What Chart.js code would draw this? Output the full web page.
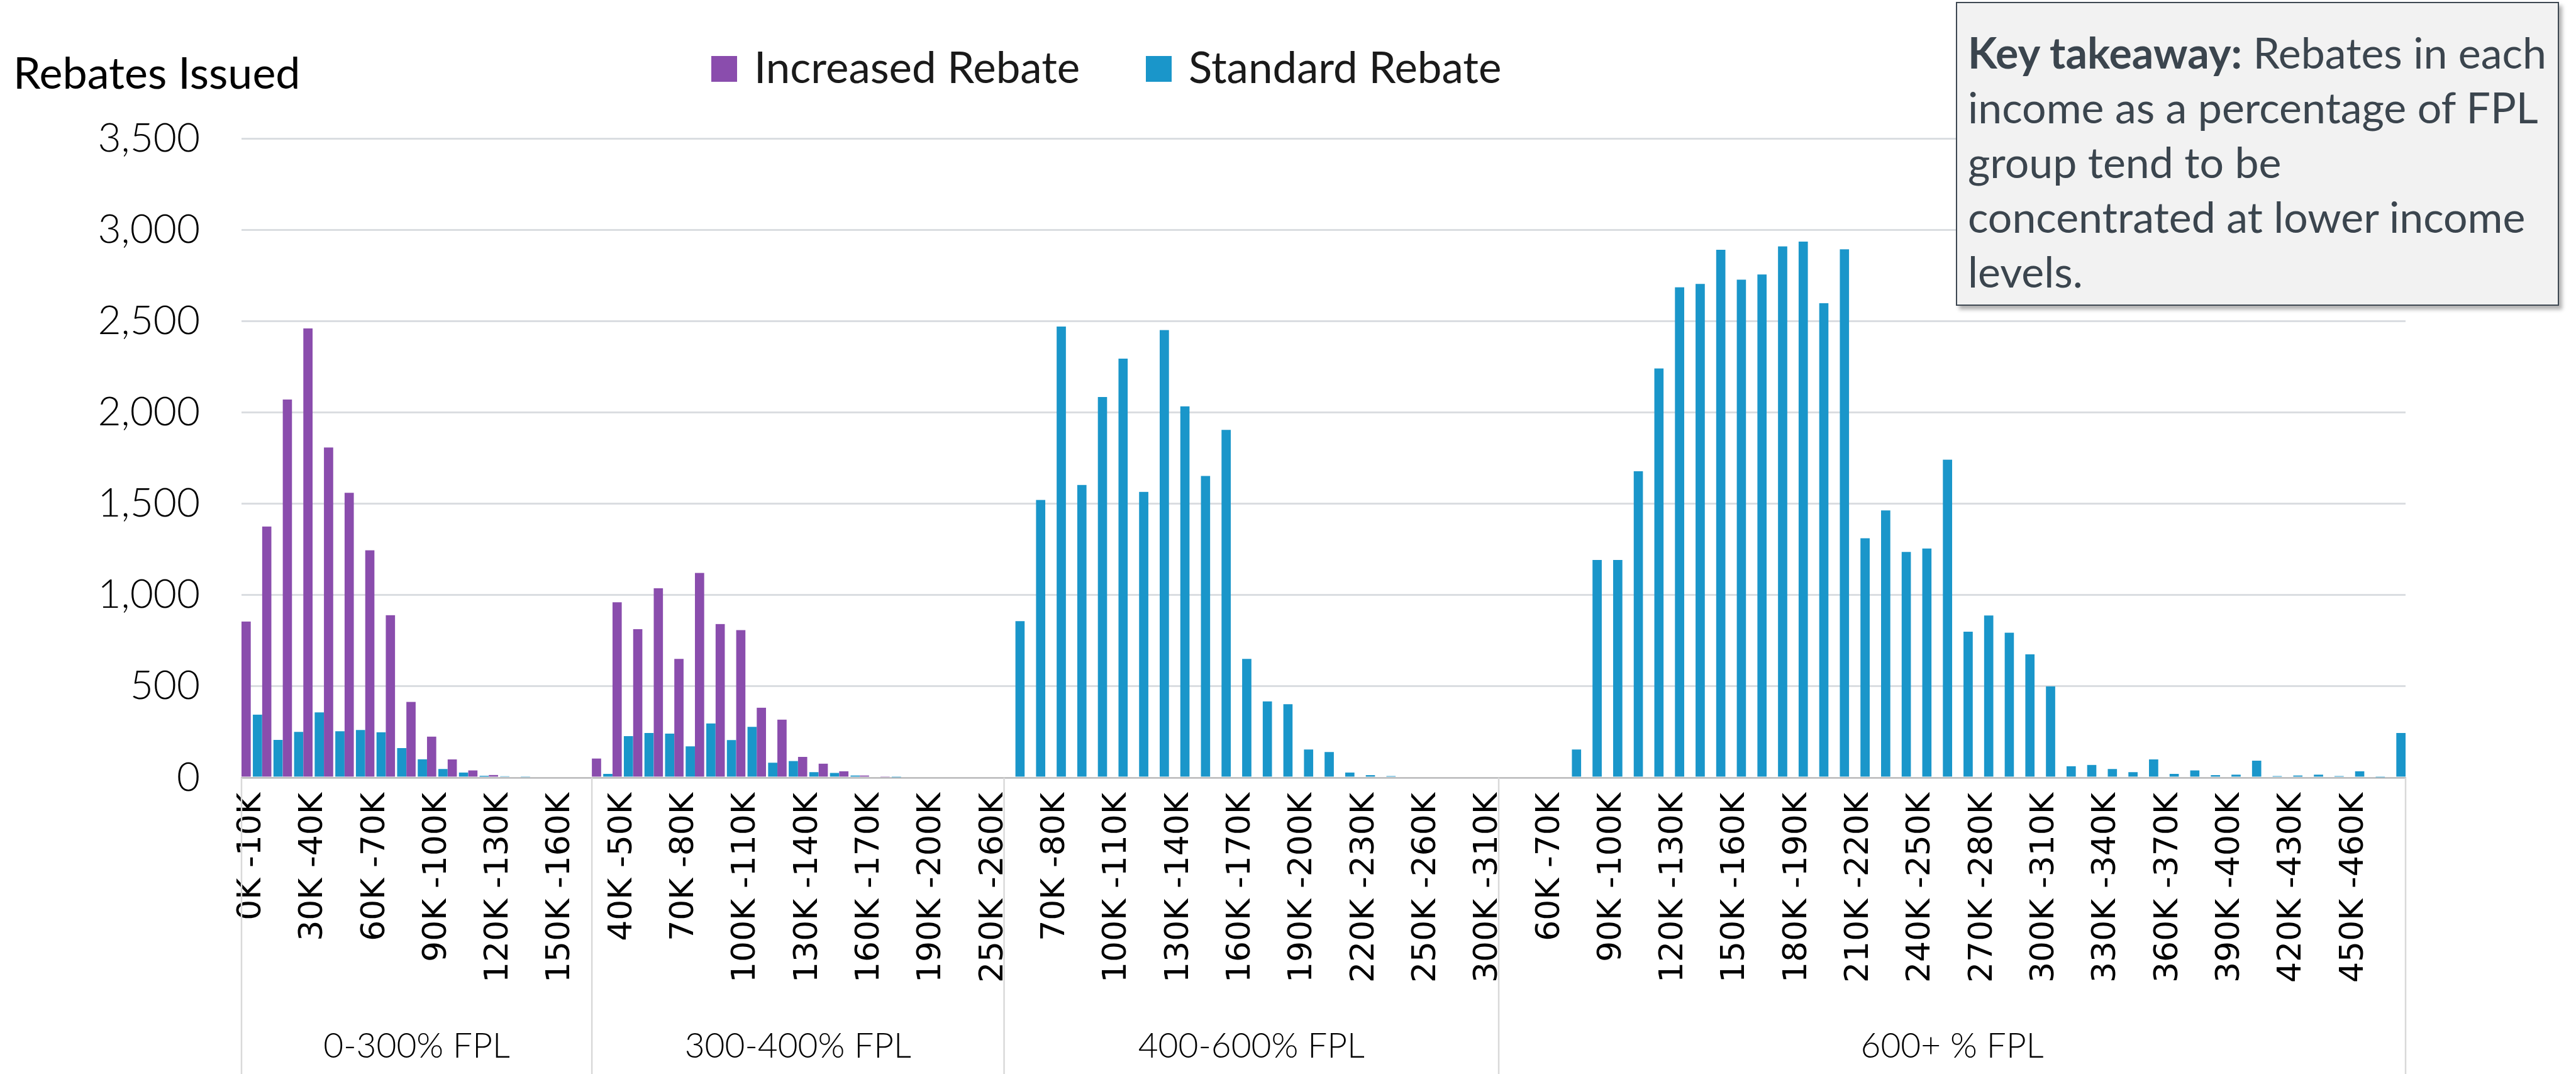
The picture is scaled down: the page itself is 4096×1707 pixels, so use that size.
<!DOCTYPE html>
<html>
<head>
<meta charset="utf-8">
<script src="https://cdn.jsdelivr.net/npm/chart.js@4.4.1/dist/chart.umd.min.js"></script>
<style>
  html, body { margin: 0; padding: 0; background: #fff; }
  #wrap { position: relative; width: 4096px; height: 1707px; }
  #note {
    position: absolute; left: 3110px; top: 3px; width: 959px; height: 483px;
    box-sizing: border-box; background: #f2f2f2; border: 2px solid #3e4852;
    box-shadow: 5px 6px 6px rgba(0, 0, 0, 0.3);
    padding: 34px 0 0 17px; font-family: Lato, sans-serif; font-size: 68px; font-weight: 400;
    line-height: 87px; color: #3b454e; white-space: nowrap;
  }
  #note b { font-weight: 700; }
</style>
</head>
<body>
<div id="wrap">
  <canvas id="graph"></canvas>
  <div id="note"><b>Key takeaway:</b> Rebates in each<br>income as a percentage of FPL<br>group tend to be<br>concentrated at lower income<br>levels.</div>
</div>
<script>
// FPL groups and the income bins inside each one
const groupNames = ["0-300% FPL", "300-400% FPL", "400-600% FPL", "600+ % FPL"];

const bins1 = ["0K -10K", "10K -20K", "20K -30K", "30K -40K", "40K -50K", "50K -60K", "60K -70K",
  "70K -80K", "80K -90K", "90K -100K", "100K -110K", "110K -120K", "120K -130K", "130K -140K",
  "140K -150K", "150K -160K", "160K -170K"];
const bins2 = ["30K -40K", "40K -50K", "50K -60K", "60K -70K", "70K -80K", "80K -90K", "90K -100K",
  "100K -110K", "110K -120K", "120K -130K", "130K -140K", "140K -150K", "150K -160K", "160K -170K",
  "170K -180K", "180K -190K", "190K -200K", "200K -210K", "210K -220K", "250K -260K"];
const bins3 = ["50K -60K", "60K -70K", "70K -80K", "80K -90K", "90K -100K", "100K -110K", "110K -120K",
  "120K -130K", "130K -140K", "140K -150K", "150K -160K", "160K -170K", "170K -180K", "180K -190K",
  "190K -200K", "200K -210K", "210K -220K", "220K -230K", "230K -240K", "240K -250K", "250K -260K",
  "260K -270K", "270K -280K", "300K -310K"];
const bins4 = ["40K -50K", "50K -60K", "60K -70K", "70K -80K", "80K -90K", "90K -100K", "100K -110K",
  "110K -120K", "120K -130K", "130K -140K", "140K -150K", "150K -160K", "160K -170K", "170K -180K",
  "180K -190K", "190K -200K", "200K -210K", "210K -220K", "220K -230K", "230K -240K", "240K -250K",
  "250K -260K", "260K -270K", "270K -280K", "280K -290K", "290K -300K", "300K -310K", "310K -320K",
  "320K -330K", "330K -340K", "340K -350K", "350K -360K", "360K -370K", "370K -380K", "380K -390K",
  "390K -400K", "400K -410K", "410K -420K", "420K -430K", "430K -440K", "440K -450K", "450K -460K",
  "460K -470K", "470K -480K"];

// Increased Rebate (purple)
const increased1 = [855, 1375, 2070, 2460, 1808, 1560, 1245, 890, 415, 225, 100, 40, 15, 5, 0, 0, 0];
const increased2 = [105, 960, 813, 1037, 650, 1121, 841, 808, 383, 318, 114, 77, 35, 12, 3, 0, 0, 0, 0, 0];
const increased3 = [0, 0, 0, 0, 0, 0, 0, 0, 0, 0, 0, 0, 0, 0, 0, 0, 0, 0, 0, 0, 0, 0, 0, 0];
const increased4 = [0, 0, 0, 0, 0, 0, 0, 0, 0, 0, 0, 0, 0, 0, 0, 0, 0, 0, 0, 0, 0, 0,
  0, 0, 0, 0, 0, 0, 0, 0, 0, 0, 0, 0, 0, 0, 0, 0, 0, 0, 0, 0, 0, 0];

// Standard Rebate (blue)
const standard1 = [345, 207, 251, 357, 254, 261, 249, 162, 101, 47, 28, 10, 8, 3, 0, 0, 0];
const standard2 = [21, 227, 245, 241, 171, 297, 206, 278, 82, 91, 30, 26, 12, 5, 2, 0, 0, 0, 0, 0];
const standard3 = [857, 1521, 2470, 1603, 2084, 2294, 1565, 2451, 2033, 1652, 1904, 650, 418, 402,
  154, 140, 28, 14, 9, 5, 5, 0, 0, 0];
const standard4 = [0, 0, 0, 154, 1192, 1192, 1678, 2241, 2685, 2703, 2890, 2727, 2755, 2909, 2935,
  2598, 2893, 1311, 1463, 1236, 1255, 1741, 799, 888, 794, 675, 500, 63, 70, 47, 30, 100, 21, 40,
  14, 16, 93, 9, 12, 16, 9, 35, 2, 245];

const groupBins = [bins1, bins2, bins3, bins4];
const labels = [].concat(bins1, bins2, bins3, bins4);
const increased = [].concat(increased1, increased2, increased3, increased4);
const standard = [].concat(standard1, standard2, standard3, standard4);

const PURPLE = "#8a4dad";
const BLUE = "#1a96ca";
const TEXT_FONT = "Lato, sans-serif";

// draws the group row under the axis, the y title and the legend
const extras = {
  id: "extras",
  afterDraw(chart) {
    const { ctx, chartArea, scales } = chart;
    const x = scales.x;
    ctx.save();

    // group dividers
    const edges = [chartArea.left];
    let idx = 0;
    groupBins.forEach((g, gi) => {
      idx += g.length;
      if (gi < groupBins.length - 1) {
        edges.push((x.getPixelForValue(idx - 1) + x.getPixelForValue(idx)) / 2);
      }
    });
    edges.push(chartArea.right);
    ctx.strokeStyle = "#d9d9d9";
    ctx.lineWidth = 2.5;
    edges.forEach(px => {
      ctx.beginPath();
      ctx.moveTo(px, chartArea.bottom);
      ctx.lineTo(px, chart.height);
      ctx.stroke();
    });

    // group names
    ctx.fillStyle = "#000";
    ctx.font = "300 55px " + TEXT_FONT;
    ctx.textAlign = "center";
    ctx.textBaseline = "middle";
    groupNames.forEach((name, i) => {
      ctx.fillText(name, (edges[i] + edges[i + 1]) / 2, 1663);
    });

    // y axis title
    ctx.font = "400 70px " + TEXT_FONT;
    ctx.textAlign = "left";
    ctx.fillText("Rebates Issued", 21, 118);

    // legend
    const legendX = [1131, 1822];
    chart.data.datasets.forEach((ds, i) => {
      ctx.fillStyle = ds.backgroundColor;
      ctx.fillRect(legendX[i], 89, 41, 41);
      ctx.fillStyle = "#1a1a1a";
      ctx.font = "400 69px " + TEXT_FONT;
      ctx.fillText(ds.label, legendX[i] + 68, 110);
    });
    ctx.restore();
  }
};

const config = {
  type: "bar",
  data: {
    labels: labels,
    datasets: [
      {
        label: "Increased Rebate",
        data: increased,
        backgroundColor: PURPLE,
        borderColor: "rgba(0,0,0,0)",
        borderWidth: { left: 0, right: 2, top: 0, bottom: 0 },
        categoryPercentage: 1,
        barPercentage: 1,
      },
      {
        label: "Standard Rebate",
        data: standard,
        backgroundColor: BLUE,
        borderColor: "rgba(0,0,0,0)",
        borderWidth: { left: 2, right: 0, top: 0, bottom: 0 },
        categoryPercentage: 1,
        barPercentage: 1,
      },
    ],
  },
  options: {
    responsive: true,
    maintainAspectRatio: false,
    animation: false,
    layout: { padding: { top: 220, right: 271, left: 0, bottom: 0 } },
    scales: {
      x: {
        grid: { display: false, drawTicks: false },
        border: { display: true, color: "#bfbfbf", width: 2.5 },
        ticks: {
          autoSkip: false,
          minRotation: 90,
          maxRotation: 90,
          padding: 24,
          color: "#000",
          font: { family: "DejaVu Sans", size: 52 },
          callback: function (val, i) {
            return i % 3 === 0 ? this.getLabelForValue(val) : "";
          },
        },
        afterFit(s) { s.height = 471; },
      },
      y: {
        min: 0,
        max: 3500,
        grid: { color: "#dadde1", lineWidth: 3, drawTicks: false },
        border: { display: false },
        ticks: {
          stepSize: 500,
          padding: 66,
          color: "#000",
          font: { family: TEXT_FONT, size: 64, weight: "300" },
        },
        afterFit(s) { s.width = 384; },
      },
    },
    plugins: {
      legend: { display: false },
      tooltip: { enabled: false },
    },
  },
  plugins: [extras],
};

let myChart = new Chart(document.getElementById("graph"), config);
</script>
</body>
</html>
